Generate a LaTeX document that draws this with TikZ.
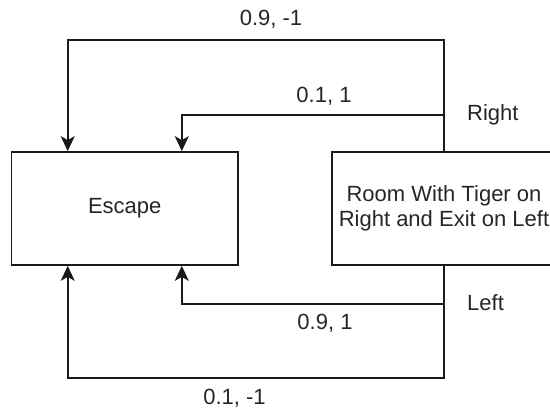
\documentclass[tikz,border=0pt]{standalone}
\usepackage{fontspec}
\setmainfont{Liberation Sans}
\usetikzlibrary{arrows.meta,calc}
\begin{document}
\begin{tikzpicture}[x=1pt,y=-1pt,
  every node/.style={text=black!85, font=\fontsize{22}{25.5}\selectfont},
  statebox/.style={draw=black!90, line width=1.7pt, inner sep=0pt, minimum height=113pt, align=center},
  conn/.style={draw=black!90, line width=1.7pt, -{Stealth[length=15pt,width=14pt,inset=4pt]}},
  lbl/.style={inner sep=0pt}]
\useasboundingbox (0,0) rectangle (550,409);
\clip (0,0) rectangle (550,409);
\node[statebox, minimum width=226.5pt] (esc) at (124.75,208.5) {Escape};
\node[statebox, minimum width=224pt] (room) at (444,208.5) {Room With Tiger on\\Right and Exit on Left};
% targets on Escape
\coordinate (eA) at ($(esc.north west)!0.25!(esc.north east)$);
\coordinate (eB) at ($(esc.north west)!0.75!(esc.north east)$);
\coordinate (eC) at ($(esc.south west)!0.75!(esc.south east)$);
\coordinate (eD) at ($(esc.south west)!0.25!(esc.south east)$);
\coordinate (bA) at (eA |- 0,40);
\coordinate (bB) at (eB |- 0,115);
\coordinate (bC) at (eC |- 0,304);
\coordinate (bD) at (eD |- 0,378);
\draw[conn] (room.north) |- (bA) -- (eA);
\draw[conn] (room.north) |- (bB) -- (eB);
\draw[conn] (room.south) |- (bC) -- (eC);
\draw[conn] (room.south) |- (bD) -- (eD);
\node[lbl, anchor=base] (l1) at (271,26) {0.9, -1};
\node[lbl, anchor=base] (l2) at (324,103) {0.1, 1};
\node[lbl, anchor=base west] (l3) at (467,121) {Right};
\node[lbl, anchor=base west] (l4) at (467,311) {Left};
\node[lbl, anchor=base] (l5) at (325,330) {0.9, 1};
\node[lbl, anchor=base] (l6) at (234.5,405) {0.1, -1};
\end{tikzpicture}
\end{document}
